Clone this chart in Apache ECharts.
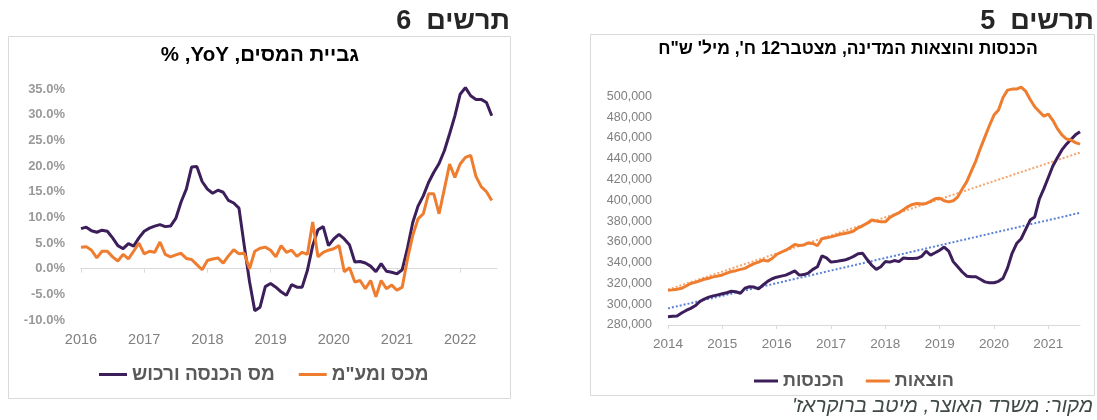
<!DOCTYPE html>
<html><head><meta charset="utf-8">
<script src="https://cdn.jsdelivr.net/npm/echarts@6/dist/echarts.min.js"></script>
<style>html,body{margin:0;padding:0;background:#fff}#c{width:1097px;height:420px}</style>
</head><body><div id="c"></div>
<script>
// ---------- Chart 6: tax collection YoY (%) ----------
const yearTicks6 = ['2016','2017','2018','2019','2020','2021','2022'];
const incomeTaxYoY = [
  7.8, 8.1, 7.4, 7.1, 7.5, 7.3, 6.0, 4.5, 3.9, 4.9,
  4.4, 6.0, 7.3, 7.9, 8.3, 8.6, 8.2, 8.3, 9.8, 13.0,
  15.5, 19.8, 19.9, 17.0, 15.5, 14.7, 15.3, 14.9, 13.3, 12.8,
  11.8, 4.5, -2.5, -8.2, -7.5, -3.5, -2.9, -3.6, -4.5, -5.2,
  -3.1, -3.6, -3.6, -0.3, 4.5, 7.6, 8.2, 4.5, 5.8, 6.7,
  5.8, 4.6, 1.3, 1.4, 1.1, 0.5, -0.6, 1.0, -0.5, -0.7,
  -1.0, -0.2, 4.0, 9.0, 12.2, 14.2, 16.8, 18.8, 20.5, 23.0,
  26.3, 29.8, 34.0, 35.3, 33.7, 33.0, 33.0, 32.4, 29.8, null
];
const customsVatYoY = [
  4.2, 4.3, 3.6, 2.1, 3.4, 3.4, 2.3, 1.5, 2.8, 1.9,
  3.4, 5.0, 2.9, 3.4, 3.2, 5.2, 2.8, 2.3, 2.7, 3.0,
  2.0, 1.8, 0.8, -0.2, 1.6, 1.9, 2.1, 1.1, 2.5, 3.7,
  2.9, 3.0, 0.0, 3.4, 4.0, 4.2, 3.6, 2.3, 4.5, 3.2,
  3.6, 2.4, 3.2, 2.8, 9.1, 2.3, 3.2, 3.6, 3.9, 4.5,
  -0.6, 0.2, -2.6, -2.3, -3.9, -2.3, -5.5, -2.3, -3.9, -3.2,
  -4.2, -3.6, 1.9, 6.5, 9.7, 10.7, 14.6, 14.6, 10.7, 15.5,
  20.4, 17.8, 20.4, 21.7, 22.1, 18.0, 16.0, 15.0, 13.3, null
];
// ---------- Chart 5: state revenues / expenditures, 12m cumulative ----------
const yearTicks5 = ['2014','2015','2016','2017','2018','2019','2020','2021'];
const revenues = [
  288000, 288500, 288700, 291500, 294000, 296000, 298500, 302500, 305000, 306800,
  308000, 309000, 310000, 311000, 312500, 312000, 310500, 315500, 316800, 316500,
  314800, 318500, 322000, 324500, 326000, 327000, 328000, 330000, 332000, 328000,
  328500, 330000, 333500, 336000, 346500, 344500, 340500, 341000, 341800, 342500,
  344000, 346000, 348500, 349000, 343000, 337500, 333500, 336000, 341000, 340500,
  342000, 341000, 344500, 344000, 344000, 344200, 346000, 351000, 347300, 349500,
  352000, 355000, 351000, 341000, 336000, 331000, 327000, 326500, 326400, 324000,
  321500, 320700, 320700, 322000, 325000, 335000, 349000, 358400, 363000, 372000,
  381000, 384000, 401000, 411000, 422000, 433000, 441000, 448500, 454000, 458500,
  463000, 466000
];
const expenditures = [
  313500, 313800, 314500, 315300, 317500, 320000, 321000, 322500, 324000, 325000,
  326300, 327200, 328200, 330000, 331500, 332300, 333500, 334500, 337000, 339000,
  340500, 342500, 341500, 344000, 348000, 350000, 352000, 354500, 357500, 356500,
  357000, 359000, 358500, 356300, 363000, 364000, 364800, 366000, 367300, 368000,
  369000, 370500, 373500, 375500, 378000, 381000, 380000, 379300, 379300, 383500,
  386000, 388000, 391000, 394000, 396000, 397000, 396500, 397000, 399000, 401500,
  402000, 399500, 398500, 399500, 403400, 411000, 418000, 428000, 438000, 450000,
  461000, 472000, 482000, 487000, 499000, 506000, 507000, 507000, 509000, 505000,
  497000, 490000, 485500, 481000, 483000, 477000, 469000, 463000, 459000, 458000,
  455500, 454000
];
// linear trend lines: [monthIndex, value] endpoints
const revenueTrend = [[0, 296000], [91, 388000]];
const expenditureTrend = [[0, 314000], [91, 446000]];

function monthsFrom(y0, n) { const a = []; for (let i = 0; i < n; i++) { const y = y0 + Math.floor(i / 12), m = i % 12 + 1; a.push(y + '-' + (m < 10 ? '0' : '') + m); } return a; }
const months6 = monthsFrom(+yearTicks6[0], incomeTaxYoY.length);
const months5 = monthsFrom(+yearTicks5[0], revenues.length);

const rtl = s => '\u202B' + s + '\u202C';
const PURPLE = '#3c1e5a', ORANGE = '#ee7d30';
const FONT = '"Liberation Sans", Arial, sans-serif';
const yearOnly = i => i % 12 === 0;

const chart = echarts.init(document.getElementById('c'), null, { renderer: 'canvas' });
chart.setOption({
  animation: false,
  backgroundColor: '#fff',
  textStyle: { fontFamily: FONT },
  graphic: [
    { type: 'rect', z: -10, silent: true, shape: { x: 8.5, y: 36.5, width: 502, height: 362 }, style: { fill: 'none', stroke: '#d9d9d9', lineWidth: 1 } },
    { type: 'rect', z: -10, silent: true, shape: { x: 590.5, y: 34.5, width: 504, height: 361 }, style: { fill: 'none', stroke: '#d9d9d9', lineWidth: 1 } },
    { type: 'text', x: 510, y: 22, style: { text: rtl('תרשים  6'), font: 'bold 27px ' + FONT, fill: '#262626', align: 'right', verticalAlign: 'middle' } },
    { type: 'text', x: 1094, y: 22, style: { text: rtl('תרשים  5'), font: 'bold 27px ' + FONT, fill: '#262626', align: 'right', verticalAlign: 'middle' } },
    { type: 'text', x: 260, y: 55, style: { text: rtl('גביית המסים, YoY, %'), font: 'bold 20.5px ' + FONT, fill: '#000', align: 'center', verticalAlign: 'middle' } },
    { type: 'text', x: 848, y: 49, style: { text: rtl('הכנסות והוצאות המדינה, מצטבר12 ח\', מיל\' ש"ח'), font: 'bold 17.5px ' + FONT, fill: '#000', align: 'center', verticalAlign: 'middle' } },
    { type: 'text', x: 1093, y: 406, style: { text: rtl('מקור: משרד האוצר, מיטב ברוקראז\''), font: 'italic 20.5px ' + FONT, fill: '#3f4a44', align: 'right', verticalAlign: 'middle' } }
  ],
  grid: [
    { left: 81, right: 600, top: 84, bottom: 100 },
    { left: 668, right: 17, top: 86, bottom: 95 }
  ],
  legend: [
    { left: 94, top: 360, itemWidth: 28, itemHeight: 3, itemGap: 24, icon: 'rect',
      data: ['מס הכנסה ורכוש', 'מכס ומע"מ'],
      textStyle: { color: '#595959', fontSize: 19, fontWeight: 'bold', fontFamily: FONT } },
    { left: 749, top: 367, itemWidth: 24, itemHeight: 3, itemGap: 22, icon: 'rect',
      data: ['הכנסות', 'הוצאות'],
      textStyle: { color: '#595959', fontSize: 18, fontWeight: 'bold', fontFamily: FONT } }
  ],
  xAxis: [
    { gridIndex: 0, type: 'category', data: months6, boundaryGap: false,
      axisLine: { onZero: true, lineStyle: { color: '#d9d9d9', width: 1 } },
      axisTick: { show: true, interval: yearOnly, length: 4, lineStyle: { color: '#d9d9d9' } },
      axisLabel: { show: false }, splitLine: { show: false } },
    { gridIndex: 0, type: 'category', data: months6, boundaryGap: false, position: 'bottom',
      axisLine: { show: false, onZero: false }, axisTick: { show: false },
      axisLabel: { interval: yearOnly, formatter: v => v.slice(0, 4), color: '#808080', fontSize: 14.5, margin: 12, fontFamily: FONT },
      splitLine: { show: false } },
    { gridIndex: 1, type: 'category', data: months5, boundaryGap: false,
      axisLine: { lineStyle: { color: '#d9d9d9', width: 1 } },
      axisTick: { show: true, interval: yearOnly, length: 4, lineStyle: { color: '#d9d9d9' } },
      axisLabel: { interval: yearOnly, formatter: v => v.slice(0, 4), color: '#808080', fontSize: 13.5, margin: 12, fontFamily: FONT },
      splitLine: { show: false } }
  ],
  yAxis: [
    { gridIndex: 0, type: 'value', min: -10, max: 36, interval: 5,
      axisLine: { show: false }, axisTick: { show: false }, splitLine: { show: false },
      axisLabel: { margin: 16, color: '#999999', fontSize: 13, fontWeight: 'bold', fontFamily: FONT,
        formatter: v => v > 35.5 ? '' : v.toFixed(1) + '%' } },
    { gridIndex: 1, type: 'value', min: 280000, max: 510000, interval: 20000,
      axisLine: { show: false }, axisTick: { show: false }, splitLine: { show: false },
      axisLabel: { margin: 16, color: '#808080', fontSize: 12.5, fontFamily: FONT,
        formatter: v => v > 500000 ? '' : v.toLocaleString('en-US') } }
  ],
  series: [
    { name: 'מס הכנסה ורכוש', type: 'line', xAxisIndex: 0, yAxisIndex: 0, data: incomeTaxYoY,
      showSymbol: false, symbol: 'none', smooth: false, color: PURPLE, lineStyle: { color: PURPLE, width: 3 } },
    { name: 'מכס ומע"מ', type: 'line', xAxisIndex: 0, yAxisIndex: 0, data: customsVatYoY,
      showSymbol: false, symbol: 'none', color: ORANGE, lineStyle: { color: ORANGE, width: 3 } },
    { name: 'trendRev', type: 'line', xAxisIndex: 2, yAxisIndex: 1, data: revenueTrend,
      showSymbol: false, symbol: 'none', lineStyle: { color: '#5b82d6', width: 2, type: [2, 2] }, z: 1 },
    { name: 'trendExp', type: 'line', xAxisIndex: 2, yAxisIndex: 1, data: expenditureTrend,
      showSymbol: false, symbol: 'none', lineStyle: { color: '#f4a46c', width: 2, type: [2, 2] }, z: 1 },
    { name: 'הכנסות', type: 'line', xAxisIndex: 2, yAxisIndex: 1, data: revenues,
      showSymbol: false, symbol: 'none', color: PURPLE, lineStyle: { color: PURPLE, width: 3 } },
    { name: 'הוצאות', type: 'line', xAxisIndex: 2, yAxisIndex: 1, data: expenditures,
      showSymbol: false, symbol: 'none', color: ORANGE, lineStyle: { color: ORANGE, width: 3 } }
  ]
});
</script></body></html>
